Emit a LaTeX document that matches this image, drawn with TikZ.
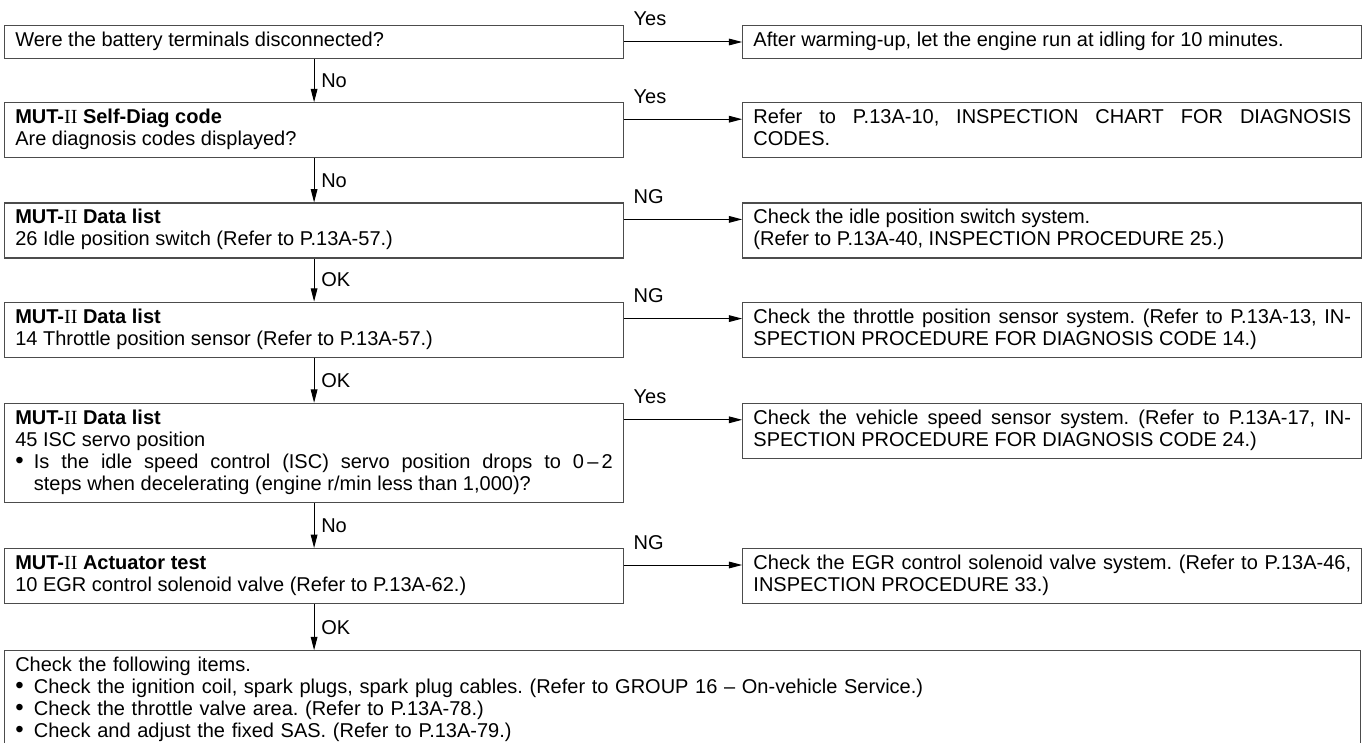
\documentclass[tikz,border=0pt]{standalone}
\usepackage{fontspec}
\setmainfont{Liberation Sans}
\newfontfamily\romnum{Liberation Serif}
\usetikzlibrary{positioning,arrows.meta}
\frenchspacing

\newcommand{\mut}{\textbf{MUT-}{\romnum II}}
% bullet item with hanging text
\newcommand{\bul}[1]{\noindent\makebox[14pt][l]{\fontsize{18}{16.5}\selectfont\textbullet}%
  \parbox[t]{\dimexpr\hsize-14pt}{#1\strut}}

\begin{document}
\begin{tikzpicture}[->,>={Triangle[length=10pt,width=5pt]},
    node distance=33pt,
    box/.style={draw=black!70,line width=0.9pt,text width=448.25pt,
      inner xsep=8pt,inner ysep=4.125pt,align=justify,
      font=\fontsize{15}{16.5}\selectfont,
      execute at begin node=\strut,execute at end node=\strut},
    wide/.style={box,text width=1001pt,align=left},
    lab/.style={font=\fontsize{15}{16.5}\selectfont,inner sep=0pt},
    every edge/.style={draw,line width=0.75pt}]

  \useasboundingbox (0,0) rectangle (1024.5pt,-556.5pt);

  % left column: the checks
  \node[box,anchor=north west] (b1) at (3pt,-18.75pt)
    {Were the battery terminals disconnected?};
  \node[box,below=32.25pt of b1] (b2)
    {\mut\ \textbf{Self-Diag code}\\Are diagnosis codes displayed?};
  \node[box,below=33pt of b2] (b3)
    {\mut\ \textbf{Data list}\\26 Idle position switch (Refer to P.13A-57.)};
  \node[box,below=32.25pt of b3] (b4)
    {\mut\ \textbf{Data list}\\14 Throttle position sensor (Refer to P.13A-57.)};
  \node[box,below=33.75pt of b4] (b5)
    {\mut\ \textbf{Data list}\\45 ISC servo position\par
     \bul{Is the idle speed control (ISC) servo position drops to 0\,--\,2\linebreak
     steps when decelerating (engine r/min less than 1,000)?}};
  \node[box,below=33.75pt of b5] (b6)
    {\mut\ \textbf{Actuator test}\\10 EGR control solenoid valve (Refer to P.13A-62.)};
  % runs on past the page bottom
  \node[wide,below=34.5pt of b6.south west,anchor=north west] (bot)
    {Check the following items.\par
     \bul{Check the ignition coil, spark plugs, spark plug cables. (Refer to GROUP 16 -- On-vehicle Service.)}\par
     \bul{Check the throttle valve area. (Refer to P.13A-78.)}\par
     \bul{Check and adjust the fixed SAS. (Refer to P.13A-79.)}\par};

  % right column: what to do
  \node[box,right=88.5pt of b1.north east,anchor=north west] (r1)
    {After warming-up, let the engine run at idling for 10 minutes.};
  \node[box,right=88.5pt of b2.north east,anchor=north west] (r2)
    {Refer to P.13A-10, INSPECTION CHART FOR DIAGNOSIS\linebreak CODES.};
  \node[box,right=88.5pt of b3.north east,anchor=north west] (r3)
    {Check the idle position switch system.\\(Refer to P.13A-40, INSPECTION PROCEDURE 25.)};
  \node[box,right=88.5pt of b4.north east,anchor=north west] (r4)
    {Check the throttle position sensor system. (Refer to P.13A-13, IN-\linebreak
     SPECTION PROCEDURE FOR DIAGNOSIS CODE 14.)};
  \node[box,right=88.5pt of b5.north east,anchor=north west] (r5)
    {Check the vehicle speed sensor system. (Refer to P.13A-17, IN-\linebreak
     SPECTION PROCEDURE FOR DIAGNOSIS CODE 24.)};
  \node[box,right=88.5pt of b6.north east,anchor=north west] (r6)
    {Check the EGR control solenoid valve system. (Refer to P.13A-46,\linebreak
     INSPECTION PROCEDURE 33.)};

  \path
    (b1) edge node[lab,right=5pt] {No} (b2)
    (b2) edge node[lab,right=5pt] {No} (b3)
    (b3) edge node[lab,right=5pt] {OK} (b4)
    (b4) edge node[lab,right=5pt] {OK} (b5)
    (b5) edge node[lab,right=5pt] {No} (b6)
    (b6) edge node[lab,right=5pt] {OK} (b6 |- bot.north);

  \foreach \i/\ans in {1/Yes,2/Yes,3/NG,4/NG,5/Yes,6/NG}
    \path ([yshift=-12.75pt]b\i.north east) edge
      node[lab,pos=0,anchor=base west,xshift=6.75pt,yshift=12pt] {\ans}
      ([yshift=-12.75pt]r\i.north west);
\end{tikzpicture}
\end{document}
